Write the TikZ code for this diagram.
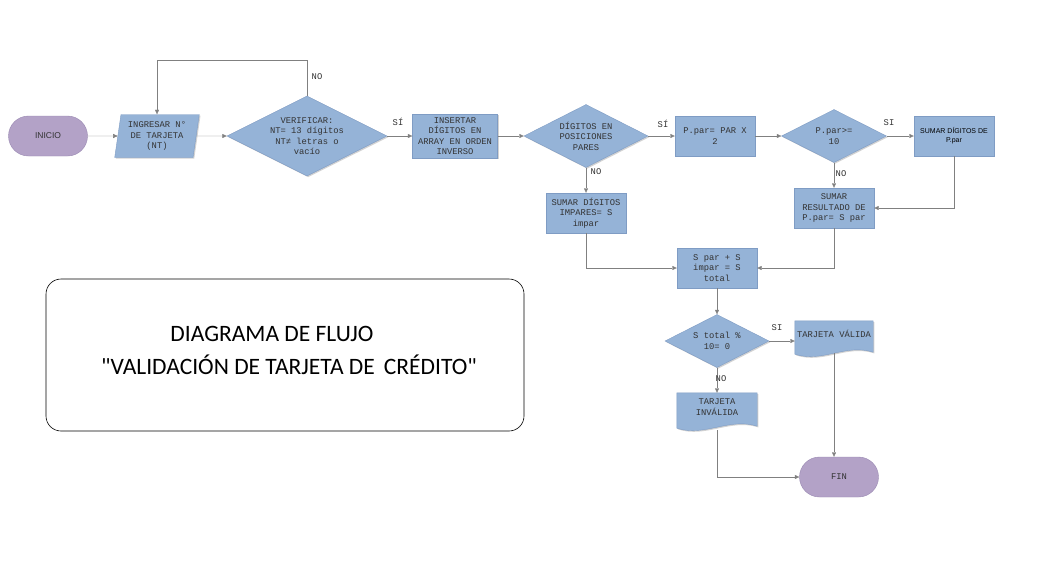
\documentclass[tikz,border=0pt]{standalone}
\usepackage{fontspec}
\usetikzlibrary{shapes.geometric,arrows.meta,shadows,backgrounds}
\newfontfamily\letramono{Liberation Mono}
\newfontfamily\letrasans{Liberation Sans}
\newfontfamily\letratitulo{Carlito}

\definecolor{cajaazul}{HTML}{95B3D7}
\definecolor{bordeazul}{HTML}{7F9CC4}
\definecolor{cajalila}{HTML}{B3A2C7}
\definecolor{bordelila}{HTML}{9A89B2}
\definecolor{linea}{HTML}{808080}

\tikzset{
  sombra/.style={drop shadow={shadow xshift=1.2pt,shadow yshift=-1.2pt,fill=black!35,opacity=.5}},
  textomono/.style={font=\letramono\fontsize{8.8}{10.5}\selectfont, text=black!80},
  proceso/.style={rectangle, fill=cajaazul, draw=bordeazul, sombra, minimum width=80pt,
    minimum height=40pt, inner sep=1pt, align=center, textomono},
  entrada/.style={trapezium, trapezium left angle=80, trapezium right angle=100,
    trapezium stretches=true, fill=cajaazul, draw=bordeazul, sombra, minimum width=85pt,
    minimum height=43pt, inner sep=0pt, align=center, textomono},
  decision/.style={diamond, aspect=2, inner sep=0pt, fill=cajaazul, draw=bordeazul, sombra,
    align=center, textomono},
  terminal/.style={rectangle, rounded corners=20pt, minimum width=79pt, minimum height=40pt,
    fill=cajalila, draw=bordelila, align=center, font=\letrasans\fontsize{8.5}{10}\selectfont,
    text=black!80},
  documento/.style={rectangle, minimum width=80pt, inner sep=1pt, align=center, textomono},
  docforma/.style={fill=cajaazul, draw=bordeazul, sombra},
  etiqueta/.style={inner sep=0pt, textomono},
  flecha/.style={draw=linea, -{Triangle[width=4pt,length=4.5pt]}},
  marco/.style={draw=black, line width=.6pt, rounded corners=15pt, minimum width=478pt,
    minimum height=152pt},
  titulo/.style={align=center, font=\letratitulo\fontsize{23.5}{33}\selectfont}
}

\begin{document}
\begin{tikzpicture}[x=1pt,y=-1pt]
  \begin{scope}[on background layer]
    \fill[white] (0,0) rectangle (1040,568);
  \end{scope}
  \useasboundingbox (0,0) rectangle (1040,568);

  % fila superior
  \node[terminal] (inicio) at (48,136) {INICIO};
  \node[entrada] (ingresar) at (157,136) {INGRESAR N°\\DE TARJETA\\(NT)};
  \node[decision, minimum width=160pt, minimum height=80pt] (verificar) at (307,136)
    {VERIFICAR:\\NT= 13 dígitos\\NT≠ letras o\\vacío};
  \node[proceso, minimum width=85pt, minimum height=44pt] (insertar) at (455,136)
    {INSERTAR\\DÍGITOS EN\\ARRAY EN ORDEN\\INVERSO};
  \node[decision, minimum width=124pt, minimum height=63pt] (pares) at (586,136)
    {DÍGITOS EN\\POSICIONES\\PARES};
  \node[proceso] (ppar) at (715,136) {P.par= PAR X\\2};
  \node[decision, minimum width=105pt, minimum height=53pt] (mayor) at (834,136) {P.par>=\\10};
  \node[proceso, font=\letrasans\fontsize{7}{9}\selectfont, text=black] (sumdig) at (954,136)
    {SUMAR DÍGITOS DE\\P.par};

  % sumas
  \node[proceso] (impar) at (586,213) {SUMAR DÍGITOS\\IMPARES= S\\impar};
  \node[proceso] (sumres) at (834,208) {SUMAR\\RESULTADO DE\\P.par= S par};
  \node[proceso] (total) at (717,268) {S par + S\\impar = S\\total};

  % resultado
  \node[decision, minimum width=104pt, minimum height=53pt] (modulo) at (717,341) {S total \%\\10= 0};
  \node[documento, minimum width=78pt, minimum height=26pt] (valida) at (834,334) {TARJETA VÁLIDA};
  \node[documento, minimum height=28pt] (invalida) at (717,407) {TARJETA\\INVÁLIDA};
  \node[terminal, textomono] (fin) at (839,477) {FIN};

  \begin{scope}[on background layer]
    \foreach \n in {valida,invalida}
      \draw[docforma] (\n.north west) -- (\n.north east) -- ([yshift=-5pt]\n.south east)
        .. controls +(-28pt,9pt) and +(28pt,-9pt) .. ([yshift=-7pt]\n.south west) -- cycle;
  \end{scope}

  % conectores
  \draw[flecha] (inicio) -- (ingresar);
  \draw[flecha] (ingresar) -- (verificar);
  \draw[flecha] (verificar.north) -- ++(0,-36) -| (ingresar.north);
  \draw[flecha] (verificar) -- (insertar);
  \draw[flecha] (insertar) -- (pares);
  \draw[flecha] (pares) -- (ppar);
  \draw[flecha] (pares) -- (impar);
  \draw[flecha] (ppar) -- (mayor);
  \draw[flecha] (mayor) -- (sumdig);
  \draw[flecha] (mayor) -- (sumres);
  \draw[flecha] (sumdig.south) |- (sumres.east);
  \draw[flecha] (impar.south) |- (total.west);
  \draw[flecha] (sumres.south) |- (total.east);
  \draw[flecha] (total) -- (modulo);
  \draw[flecha] (modulo.east) -- (modulo.east -| valida.west);
  \draw[flecha] (modulo) -- (invalida);
  \draw[flecha] ([yshift=-9pt]invalida.south) |- (fin.west);
  \draw[flecha] ([yshift=-6pt]valida.south) -- (valida.south |- fin.north);

  % etiquetas
  \node[etiqueta] (lno1) at (317,77) {NO};
  \node[etiqueta] (lsi1) at (398,122) {SÍ};
  \node[etiqueta] (lsi2) at (663,124) {SÍ};
  \node[etiqueta] (lno2) at (596,172) {NO};
  \node[etiqueta] (lsi3) at (889,123) {SI};
  \node[etiqueta] (lno3) at (841,174) {NO};
  \node[etiqueta] (lsi4) at (777,328) {SI};
  \node[etiqueta] (lno4) at (721,379) {NO};

  % titulo
  \node[marco] (recuadro) at (285,355) {};
  \node[titulo] (titulo) at (289,350)
    {DIAGRAMA DE FLUJO\hspace*{34pt}\\"VALIDACIÓN DE TARJETA DE\hspace{9pt}CRÉDITO"};
\end{tikzpicture}
\end{document}
